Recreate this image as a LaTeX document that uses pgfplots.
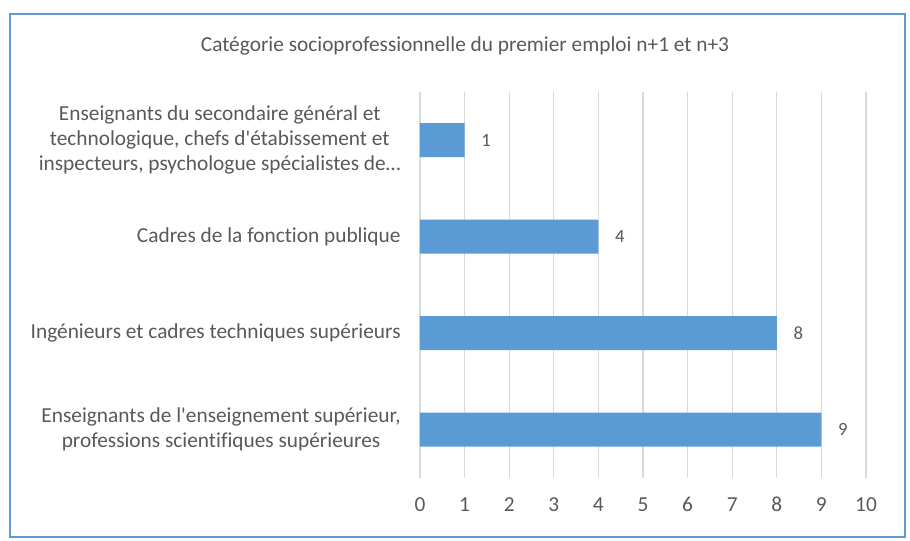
\documentclass[border=0pt]{standalone}
\usepackage{pgfplots}
\pgfplotsset{compat=1.18}
\usepackage{fontspec}
\defaultfontfeatures[\rmfamily]{}
\setmainfont{Carlito}[Ligatures=NoCommon]
\definecolor{barblue}{HTML}{5B9BD5}
\definecolor{txtgray}{HTML}{595959}
\definecolor{gridgray}{HTML}{D9D9D9}
\begin{document}
\begin{tikzpicture}[x=0.75pt,y=0.75pt]
\path (0,0) rectangle (910,541);
\draw[barblue, line width=1.5pt] (10,4) rectangle (905,527);
\node[text=txtgray, font=\fontsize{16}{19}\selectfont] at (465,495) {Catégorie socioprofessionnelle du premier emploi n+1 et n+3};
\begin{axis}[
  at={(315pt,47.25pt)}, anchor=south west,
  scale only axis, width=334.5pt, height=289.5pt,
  xbar, bar width=25.5pt,
  xmin=0, xmax=10, ymin=-0.5, ymax=3.5,
  xtick={0,...,10},
  ytick={0,1,2,3},
  yticklabels={{Enseignants de l'enseignement supérieur,\\professions scientifiques supérieures},
               {Ingénieurs et cadres techniques supérieurs},
               {Cadres de la fonction publique},
               {Enseignants du secondaire général et\\technologique, chefs d'étabissement et\\inspecteurs, psychologue spécialistes de…}},
  yticklabel style={align=center, text=txtgray, font=\fontsize{16}{18.75}\selectfont, xshift=-11pt},
  xticklabel style={text=txtgray, font=\fontsize{16}{19}\selectfont, yshift=-11pt},
  /pgf/number format/assume math mode=true,
  xmajorgrids, grid style={gridgray, line width=1pt},
  axis line style={draw=none},
  major tick length=0pt,
  nodes near coords,
  nodes near coords style={text=txtgray, font=\fontsize{14}{16}\selectfont, anchor=west, xshift=9pt},
  axis on top=false,
]
\addplot[fill=barblue, draw=none] coordinates {(9,0) (8,1) (4,2) (1,3)};
\end{axis}
\end{tikzpicture}
\end{document}
